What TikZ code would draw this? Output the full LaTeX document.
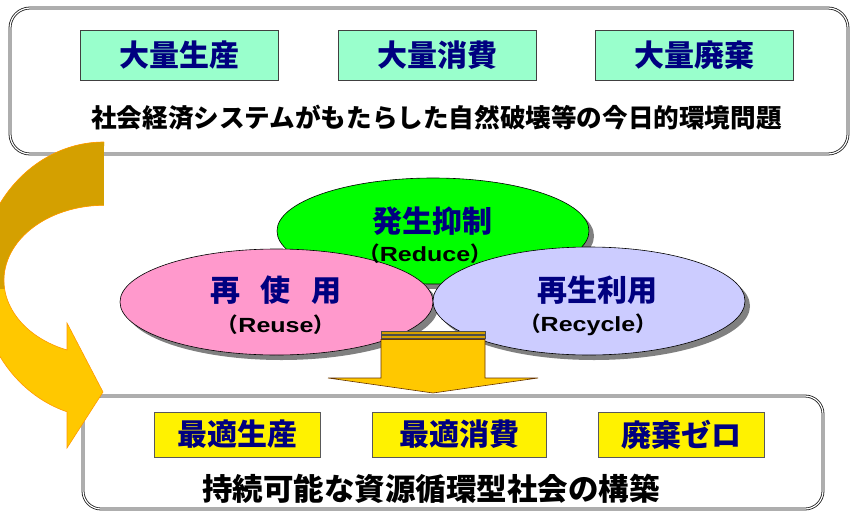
\documentclass[tikz,border=0pt]{standalone}
\usepackage{fontspec}
\newfontfamily\jp{Noto Sans CJK JP}
\newfontfamily\lat{Liberation Sans}[FakeStretch=1.22]
\usetikzlibrary{shapes.geometric,shadows}
\newcommand\myfs[1]{\fontsize{#1}{#1}\selectfont}
\definecolor{navy}{RGB}{0,0,128}
\definecolor{mint}{RGB}{153,255,204}
\definecolor{lgreen}{RGB}{0,255,0}
\definecolor{lpink}{RGB}{255,153,204}
\definecolor{lav}{RGB}{204,204,255}
\definecolor{gold}{RGB}{212,160,0}
\definecolor{amber}{RGB}{255,200,0}
\definecolor{edgeor}{RGB}{255,153,0}
\tikzset{
  bigbox/.style={draw=black!90, double=white, double distance=1.2pt, line width=0.8pt,
    rounded corners=20pt, fill=white, inner sep=0pt},
  greenbox/.style={draw=black!75, line width=0.7pt, fill=mint, minimum width=198pt,
    minimum height=50pt, inner sep=0pt, text=navy, font=\jp\bfseries\myfs{30pt}},
  yellowbox/.style={draw=black!65, line width=0.7pt, fill=yellow, minimum width=166pt,
    minimum height=45pt, inner sep=0pt, text=navy, font=\jp\bfseries\myfs{30pt}},
  caption/.style={inner sep=0pt, text=black, font=\jp\bfseries},
  elli/.style={ellipse, draw=black, line width=0.6pt, inner sep=0pt,
    drop shadow={shadow xshift=5pt, shadow yshift=-5pt, opacity=1, fill=black!50}},
  head/.style={inner sep=0pt, text=navy, font=\jp\bfseries\myfs{30pt}},
  sub/.style={inner sep=0pt, text=black, font=\jp\bfseries\myfs{20.5pt}},
}
\begin{document}
\begin{tikzpicture}[x=1pt,y=1pt]
\useasboundingbox (0,0) rectangle (850,-511);
% top box
\node[bigbox, minimum width=838pt, minimum height=146pt] (topbox) at (429,-81) {};
\node[greenbox] (g1) at (179,-55) {大量生産};
\node[greenbox] (g2) at (437,-55) {大量消費};
\node[greenbox] (g3) at (694,-55) {大量廃棄};
\node[caption, font=\jp\bfseries\myfs{25.6pt}] (cap1) at (436.5,-118) {社会経済システムがもたらした自然破壊等の今日的環境問題};
% bottom box
\node[bigbox, rounded corners=18pt, minimum width=740pt, minimum height=113pt] (botbox) at (453,-452.5) {};
\node[yellowbox] (y1) at (237,-434.5) {最適生産};
\node[yellowbox, minimum width=174pt] (y2) at (459,-434.5) {最適消費};
\node[yellowbox] (y3) at (681,-434.5) {廃棄ゼロ};
\node[caption, font=\jp\bfseries\myfs{30.5pt}] (cap2) at (431,-489) {持続可能な資源循環型社会の構築};
% ellipses
\node[elli, fill=lgreen, minimum width=312pt, minimum height=106pt] (reduce) at (433,-231) {};
\node[elli, fill=lpink, minimum width=313pt, minimum height=106pt] (reuse) at (276.5,-302) {};
\node[elli, fill=lav, minimum width=312pt, minimum height=108pt] (recycle) at (589,-301) {};
\node[head] (t1) at (432,-221) {発生抑制};
\node[sub] (t2) at (425,-254) {（{\lat Reduce}）};
\node[head] (t3) at (276,-290) {再\hspace{0.7em}使\hspace{0.7em}用};
\node[sub] (t4) at (276,-325) {（{\lat Reuse}）};
\node[head] (t5) at (597,-290) {再生利用};
\node[sub] (t6) at (588,-325) {（{\lat Recycle}）};
% central down arrow
\draw[fill=gold, draw=black!70, line width=0.4pt] (381,-331.5) rectangle (485,-334.5);
\draw[fill=gold, draw=black!70, line width=0.4pt] (381,-335.5) rectangle (485,-338.3);
\draw[fill=amber, draw=black!60!orange, line width=0.6pt]
  (381,-339.5) -- (485,-339.5) -- (485,-378) -- (538,-378) -- (433,-393)
  -- (328,-378) -- (381,-378) -- cycle;
% curved arrow
\begin{scope}
\clip (0,0) rectangle (850,-511);
\fill[amber] (104,-142) arc[start angle=90, end angle=252.8, x radius=125pt, y radius=138pt]
  -- (67,-448) -- (103,-392) -- (67,-323) -- (67,-350)
  arc[start angle=248.3, end angle=90, x radius=100pt, y radius=75pt] -- cycle;
\begin{scope}
\clip (-100,-100) rectangle (200,-288);
\fill[gold] (104,-142) arc[start angle=90, end angle=252.8, x radius=125pt, y radius=138pt]
  -- (67,-448) -- (103,-392) -- (67,-323) -- (67,-350)
  arc[start angle=248.3, end angle=90, x radius=100pt, y radius=75pt] -- cycle;
\end{scope}
\draw[edgeor, line width=0.6pt] (104,-142) arc[start angle=90, end angle=252.8, x radius=125pt, y radius=138pt]
  -- (67,-448) -- (103,-392) -- (67,-323) -- (67,-350)
  arc[start angle=248.3, end angle=90, x radius=100pt, y radius=75pt];
\end{scope}
\end{tikzpicture}
\end{document}
